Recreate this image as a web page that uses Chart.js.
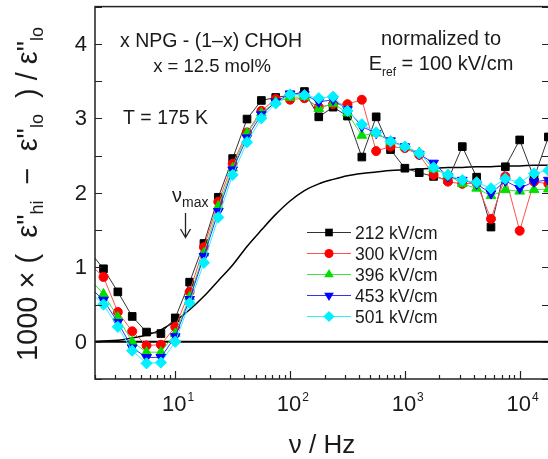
<!DOCTYPE html>
<html><head><meta charset="utf-8">
<script src="https://cdn.jsdelivr.net/npm/chart.js"></script>
<style>html,body{margin:0;padding:0;overflow:hidden;background:#fff}canvas{display:block}</style>
</head><body>
<canvas id="c" width="560" height="459" style="width:560px;height:459px"></canvas>
<script>
// frequencies in Hz (1/8 decade spacing)
const frequencies = [1.778, 2.371, 3.162, 4.217, 5.623, 7.499, 10, 13.34, 17.78, 23.71, 31.62, 42.17, 56.23, 74.99, 100, 133.4, 177.8, 237.1, 316.2, 421.7, 562.3, 749.9, 1000, 1334, 1778, 2371, 3162, 4217, 5623, 7499, 10000, 13335, 17783];
const series212 = [1.22, 0.98, 0.67, 0.34, 0.13, 0.11, 0.32, 0.80, 1.32, 1.94, 2.46, 2.99, 3.24, 3.28, 3.31, 3.36, 3.02, 3.15, 3.03, 2.48, 3.02, 2.58, 2.33, 2.27, 2.22, 2.17, 2.62, 2.21, 1.54, 2.35, 2.71, 2.20, 2.75];
const series300 = [1.05, 0.87, 0.40, 0.14, -0.05, -0.04, 0.20, 0.67, 1.27, 1.88, 2.39, 2.81, 3.10, 3.26, 3.25, 3.27, 3.15, 3.19, 3.19, 3.25, 2.56, 2.62, 2.60, 2.51, 2.24, 2.15, 2.12, 2.13, 1.65, 2.22, 1.49, 2.15, 2.12];
const series396 = [0.85, 0.64, 0.33, 0.00, -0.14, -0.14, 0.11, 0.60, 1.19, 1.82, 2.33, 2.80, 3.07, 3.22, 3.28, 3.29, 3.13, 3.20, 3.07, 2.77, 2.80, 2.69, 2.62, 2.54, 2.32, 2.24, 2.12, 2.06, 1.96, 2.04, 2.02, 2.04, 2.05];
const series453 = [0.74, 0.56, 0.26, -0.08, -0.21, -0.21, 0.07, 0.57, 1.15, 1.75, 2.31, 2.74, 3.05, 3.22, 3.33, 3.32, 3.22, 3.25, 3.12, 2.89, 2.80, 2.70, 2.62, 2.52, 2.40, 2.22, 2.17, 2.12, 1.99, 2.16, 2.06, 2.15, 2.17];
const series501 = [0.68, 0.50, 0.20, -0.12, -0.29, -0.28, 0.00, 0.52, 1.06, 1.67, 2.24, 2.68, 3.00, 3.20, 3.32, 3.31, 3.27, 3.29, 3.10, 2.92, 2.81, 2.69, 2.62, 2.53, 2.34, 2.24, 2.17, 2.14, 2.06, 2.19, 2.14, 2.26, 2.30];
const referenceCurve = [0.00, 0.01, 0.02, 0.05, 0.09, 0.16, 0.28, 0.43, 0.61, 0.82, 1.03, 1.28, 1.50, 1.71, 1.89, 2.03, 2.12, 2.18, 2.23, 2.26, 2.28, 2.30, 2.31, 2.32, 2.33, 2.34, 2.34, 2.35, 2.35, 2.36, 2.36, 2.37, 2.37];
const seriesLabels = ['212 kV/cm', '300 kV/cm', '396 kV/cm', '453 kV/cm', '501 kV/cm'];
const yTickLabels = ['0', '1', '2', '3', '4'];
const xTickExponents = ['1', '2', '3', '4'];

const colors = ['#000000', '#ff0000', '#00e000', '#0000ff', '#00f0ff'];
const lineColors = ['#333333', '#ff5050', '#40e040', '#3030ff', '#30f0ff'];
const styles = [
  {pointStyle: 'rect', radius: 5.4, rotation: 0},
  {pointStyle: 'circle', radius: 4.5, rotation: 0},
  {pointStyle: 'triangle', radius: 5.6, rotation: 0},
  {pointStyle: 'triangle', radius: 5.6, rotation: 180},
  {pointStyle: 'rectRot', radius: 5.6, rotation: 0}
];
const allSeries = [series212, series300, series396, series453, series501];

function pts(vals) { return frequencies.map((f, i) => ({x: f, y: vals[i]})); }

const datasets = allSeries.map((s, i) => ({
  label: seriesLabels[i],
  data: pts(s),
  showLine: true,
  borderColor: lineColors[i],
  borderWidth: 1,
  backgroundColor: colors[i],
  pointBackgroundColor: colors[i],
  pointBorderColor: colors[i],
  pointBorderWidth: 1,
  pointStyle: styles[i].pointStyle,
  pointRadius: styles[i].radius,
  pointRotation: styles[i].rotation,
  order: 5 - i
}));
datasets.push({
  label: 'curve',
  data: pts(referenceCurve),
  showLine: true,
  borderColor: '#000',
  borderWidth: 1.5,
  pointRadius: 0,
  cubicInterpolationMode: 'monotone',
  order: 10
});

const FONT = '"Liberation Sans", Arial, Helvetica, sans-serif';
const TXT = '#1a1a1a';

function drawRich(ctx, segs, x, y, align) {
  let total = 0;
  segs.forEach(s => { ctx.font = s[1] + 'px ' + FONT; s.w = ctx.measureText(s[0]).width; total += s.w; });
  let cx = align === 'center' ? x - total / 2 : (align === 'right' ? x - total : x);
  ctx.textAlign = 'left';
  ctx.textBaseline = 'alphabetic';
  segs.forEach(s => { ctx.font = s[1] + 'px ' + FONT; ctx.fillText(s[0], cx, y + (s[2] || 0)); cx += s.w; });
}

function drawMarker(ctx, i, x, y) {
  const st = styles[i], r = st.radius;
  ctx.fillStyle = colors[i];
  ctx.beginPath();
  if (st.pointStyle === 'rect') {
    const h = r * Math.SQRT1_2; ctx.rect(x - h, y - h, 2 * h, 2 * h);
  } else if (st.pointStyle === 'circle') {
    ctx.arc(x, y, r, 0, Math.PI * 2);
  } else if (st.pointStyle === 'triangle') {
    const s = st.rotation ? -1 : 1;
    ctx.moveTo(x, y - s * r);
    ctx.lineTo(x + r * Math.cos(Math.PI / 6), y + s * r * 0.5);
    ctx.lineTo(x - r * Math.cos(Math.PI / 6), y + s * r * 0.5);
    ctx.closePath();
  } else {
    ctx.moveTo(x, y - r); ctx.lineTo(x + r, y); ctx.lineTo(x, y + r); ctx.lineTo(x - r, y); ctx.closePath();
  }
  ctx.fill();
}

const deco = {
  id: 'deco',
  beforeDatasetsDraw(chart) {
    const {ctx, chartArea: a, scales: {y}} = chart;
    const y0 = y.getPixelForValue(0);
    ctx.save();
    ctx.strokeStyle = '#000'; ctx.lineWidth = 1.8;
    ctx.beginPath(); ctx.moveTo(a.left, y0); ctx.lineTo(a.right, y0); ctx.stroke();
    ctx.restore();
  },
  afterDraw(chart) {
    const {ctx, chartArea: a, scales: {x, y}} = chart;
    ctx.save();
    // frame
    ctx.strokeStyle = '#222'; ctx.lineWidth = 1.5;
    ctx.strokeRect(a.left, a.top, a.right - a.left, a.bottom - a.top);
    // y ticks
    ctx.lineWidth = 1.2;
    for (let v = -0.5; v <= 4.5001; v += 0.5) {
      const py = Math.round(y.getPixelForValue(v)) + 0.5;
      ctx.beginPath();
      ctx.moveTo(a.left, py); ctx.lineTo(a.left + 7, py);
      ctx.moveTo(a.right, py); ctx.lineTo(a.right - 7, py);
      ctx.stroke();
    }
    // x ticks
    for (let e = 0; e <= 4; e++) {
      for (let k = 1; k <= 9; k++) {
        const f = k * Math.pow(10, e);
        if (f < x.min || f > x.max) continue;
        const px = Math.round(x.getPixelForValue(f)) + 0.5;
        const len = k === 1 ? 8 : 4;
        ctx.beginPath(); ctx.moveTo(px, a.bottom); ctx.lineTo(px, a.bottom - len); ctx.stroke();
      }
    }
    ctx.fillStyle = TXT;
    // y tick labels
    ctx.font = '22px ' + FONT; ctx.textAlign = 'right'; ctx.textBaseline = 'middle';
    yTickLabels.forEach(t => { ctx.fillText(t, a.left - 8, y.getPixelForValue(Number(t)) + 1); });
    // x tick labels
    xTickExponents.forEach(t => {
      const px = x.getPixelForValue(Math.pow(10, Number(t)));
      ctx.font = '22px ' + FONT; ctx.textAlign = 'center'; ctx.textBaseline = 'alphabetic';
      const w = ctx.measureText('10').width;
      ctx.fillText('10', px - 1, 411);
      ctx.font = '12px ' + FONT; ctx.textAlign = 'left';
      ctx.fillText(t, px - 1 + w / 2 + 1, 401);
    });
    // axis titles
    drawRich(ctx, [['ν / Hz', 26, 0]], (a.left + a.right) / 2, 453, 'center');
    ctx.save();
    ctx.translate(37, 194);
    ctx.rotate(-Math.PI / 2);
    drawRich(ctx, [['1000 × (  ε"', 29, 0], ['hi', 18, 6], ['  −  ε"', 29, 0], ['lo', 18, 6], ['  ) / ε"', 29, 0], ['lo', 18, 6]], 0, 0, 'center');
    ctx.restore();
    // annotations
    drawRich(ctx, [['x NPG - (1–x) CHOH', 19.5, 0]], 211, 47, 'center');
    drawRich(ctx, [['x = 12.5 mol%', 18.5, 0]], 212, 72, 'center');
    drawRich(ctx, [['T = 175 K', 19.5, 0]], 123, 124, 'left');
    drawRich(ctx, [['normalized to', 20, 0]], 441, 45, 'center');
    drawRich(ctx, [['E', 20, 0], ['ref', 12, 6], [' = 100 kV/cm', 20, 0]], 441, 70, 'center');
    drawRich(ctx, [['ν', 20, 0], ['max', 14, 5]], 172, 202, 'left');
    // arrow
    ctx.strokeStyle = '#222'; ctx.lineWidth = 1.3;
    ctx.beginPath();
    ctx.moveTo(185.5, 213); ctx.lineTo(185.5, 237);
    ctx.moveTo(180.5, 229); ctx.lineTo(185.5, 237.5); ctx.lineTo(190.5, 229);
    ctx.stroke();
    // legend
    const rows = [232, 253, 274, 295, 316];
    seriesLabels.forEach((lab, i) => {
      const ry = rows[i];
      ctx.strokeStyle = lineColors[i]; ctx.lineWidth = 1.2;
      ctx.beginPath(); ctx.moveTo(307, ry + 0.5); ctx.lineTo(351, ry + 0.5); ctx.stroke();
      drawMarker(ctx, i, 329, ry + 0.5);
      ctx.fillStyle = TXT;
      drawRich(ctx, [[lab, 17.5, 0]], 355, ry + 6.5, 'left');
    });
    ctx.restore();
  }
};

new Chart(document.getElementById('c'), {
  type: 'scatter',
  data: {datasets},
  options: {
    responsive: false,
    animation: false,
    devicePixelRatio: 1,
    layout: {padding: {left: 95, top: 6, right: 11, bottom: 80}},
    plugins: {legend: {display: false}, tooltip: {enabled: false}},
    scales: {
      x: {type: 'logarithmic', min: 2, max: 18000, display: false},
      y: {type: 'linear', min: -0.5, max: 4.5, display: false}
    }
  },
  plugins: [deco]
});
</script>
</body></html>
